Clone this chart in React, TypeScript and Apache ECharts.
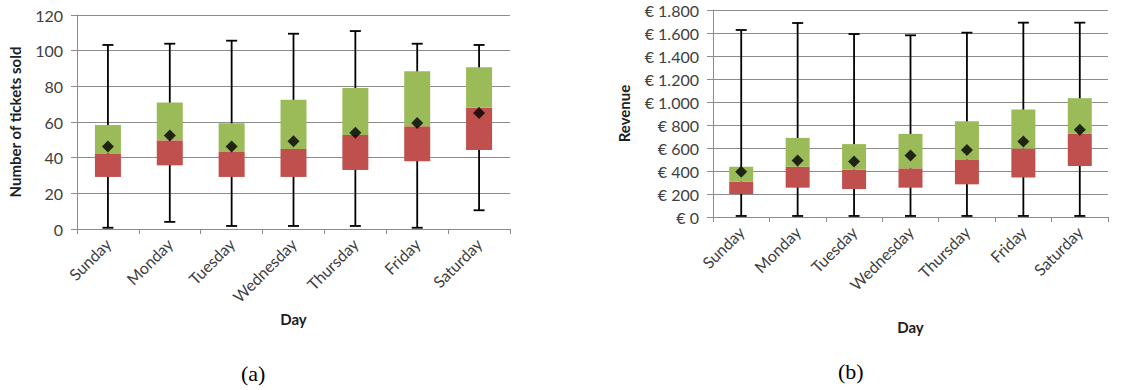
import React, { useEffect, useRef } from "react";
import * as echarts from "echarts";

const days = ["Sunday", "Monday", "Tuesday", "Wednesday", "Thursday", "Friday", "Saturday"];

// (a) Number of tickets sold
const ticketMin = [0.7, 4, 1.7, 1.7, 1.7, 0.7, 10.5];
const ticketQ1 = [29.2, 35.7, 29.2, 29.2, 33.1, 38, 44.3];
const ticketMedian = [42.4, 49.7, 43.2, 44.9, 52.7, 57.6, 68];
const ticketQ3 = [58.3, 71, 59.3, 72.5, 79.1, 88.4, 90.7];
const ticketMax = [103.2, 103.9, 105.6, 109.5, 111, 103.9, 103.2];
const ticketMean = [46.2, 52.5, 46.2, 49.2, 54, 59.4, 65];

// (b) Revenue
const revMin = [9, 9, 9, 9, 9, 9, 9];
const revQ1 = [200, 255, 243, 255, 284, 344, 443];
const revMedian = [307, 437, 411, 423, 501, 596, 723];
const revQ3 = [437, 688, 634, 723, 833, 935, 1033];
const revMax = [1626, 1687, 1591, 1580, 1603, 1690, 1690];
const revMean = [393, 492, 483, 535, 582, 657, 758];

const RED = "#C0504D";
const GREEN = "#9BBB59";
const GRID = "#8c8c8c";
const FONT = "Lato";

function whiskerRender(params: any, api: any) {
  const x = api.value(0);
  const top = api.coord([x, api.value(2)]);
  const bot = api.coord([x, api.value(1)]);
  const cap = 5.5;
  const style = { stroke: "#000", lineWidth: 1.8 };
  return {
    type: "group",
    children: [
      { type: "line", shape: { x1: top[0], y1: top[1], x2: bot[0], y2: bot[1] }, style },
      { type: "line", shape: { x1: top[0] - cap, y1: top[1], x2: top[0] + cap, y2: top[1] }, style },
      { type: "line", shape: { x1: bot[0] - cap, y1: bot[1], x2: bot[0] + cap, y2: bot[1] }, style },
    ],
  };
}

function euro(v: number) {
  const s = String(Math.round(v));
  return "€ " + s.replace(/\B(?=(\d{3})+(?!\d))/g, ".");
}

export default function App() {
  const ref = useRef<HTMLDivElement>(null);
  useEffect(() => {
    document.body.style.margin = "0";
    const chart = echarts.init(ref.current!, null, { renderer: "svg" });
    const axisLabel = { color: "#404040", fontFamily: FONT, fontSize: 16 };
    const nameStyle = { color: "#202020", fontFamily: FONT, fontSize: 15, fontWeight: "bold" as const };
    const xAxisBase = (gridIndex: number, gap: number) => ({
      type: "category" as const,
      gridIndex,
      data: days,
      name: "Day",
      nameLocation: "middle" as const,
      nameGap: gap,
      nameTextStyle: nameStyle,
      axisLine: { lineStyle: { color: GRID } },
      axisTick: { show: true, length: 5, lineStyle: { color: GRID } },
      axisLabel: { ...axisLabel, fontSize: 16, rotate: 45, margin: 12, interval: 0 },
      splitLine: { show: false },
    });
    const series: any[] = [];
    const build = (
      idx: number,
      mn: number[],
      q1: number[],
      med: number[],
      q3: number[],
      mx: number[],
      mean: number[],
      bw: number
    ) => {
      series.push({
        type: "custom",
        xAxisIndex: idx,
        yAxisIndex: idx,
        renderItem: whiskerRender,
        encode: { x: 0, y: [1, 2] },
        data: days.map((_, i) => [i, mn[i], mx[i]]),
        z: 1,
      });
      series.push({
        type: "bar",
        xAxisIndex: idx,
        yAxisIndex: idx,
        stack: "s" + idx,
        barWidth: bw,
        itemStyle: { color: "transparent" },
        data: q1,
        z: 2,
      });
      series.push({
        type: "bar",
        xAxisIndex: idx,
        yAxisIndex: idx,
        stack: "s" + idx,
        barWidth: bw,
        itemStyle: { color: RED },
        data: med.map((m, i) => +(m - q1[i]).toFixed(2)),
        z: 2,
      });
      series.push({
        type: "bar",
        xAxisIndex: idx,
        yAxisIndex: idx,
        stack: "s" + idx,
        barWidth: bw,
        itemStyle: { color: GREEN },
        data: q3.map((q, i) => +(q - med[i]).toFixed(2)),
        z: 2,
      });
      series.push({
        type: "scatter",
        xAxisIndex: idx,
        yAxisIndex: idx,
        symbol: "diamond",
        symbolSize: 12,
        itemStyle: { color: "#000" },
        data: mean,
        z: 3,
      });
    };
    build(0, ticketMin, ticketQ1, ticketMedian, ticketQ3, ticketMax, ticketMean, 26);
    build(1, revMin, revQ1, revMedian, revQ3, revMax, revMean, 24);

    chart.setOption({
      animation: false,
      grid: [
        { left: 77, right: 614, top: 15, bottom: 161 },
        { left: 713, right: 16, top: 10, bottom: 173 },
      ],
      xAxis: [xAxisBase(0, 82), xAxisBase(1, 102)],
      yAxis: [
        {
          type: "value",
          gridIndex: 0,
          min: 0,
          max: 120,
          interval: 20,
          name: "Number of tickets sold",
          nameLocation: "middle",
          nameGap: 55,
          nameTextStyle: nameStyle,
          axisLine: { show: true, lineStyle: { color: GRID } },
          axisTick: { show: true, length: 6, lineStyle: { color: GRID } },
          axisLabel: { ...axisLabel, margin: 14 },
          splitLine: { lineStyle: { color: GRID } },
        },
        {
          type: "value",
          gridIndex: 1,
          min: 0,
          max: 1800,
          interval: 200,
          name: "Revenue",
          nameLocation: "middle",
          nameGap: 82,
          nameTextStyle: nameStyle,
          axisLine: { show: true, lineStyle: { color: GRID } },
          axisTick: { show: true, length: 6, lineStyle: { color: GRID } },
          axisLabel: { ...axisLabel, margin: 14, formatter: euro },
          splitLine: { lineStyle: { color: GRID } },
        },
      ],
      graphic: [
        {
          type: "text",
          left: 241,
          top: 362,
          style: { text: "(a)", fontFamily: "Liberation Serif", fontSize: 22, fill: "#000" },
        },
        {
          type: "text",
          left: 838,
          top: 360,
          style: { text: "(b)", fontFamily: "Liberation Serif", fontSize: 22, fill: "#000" },
        },
      ],
      series,
    });
    return () => chart.dispose();
  }, []);
  return <div ref={ref} style={{ width: 1124, height: 390 }} />;
}
